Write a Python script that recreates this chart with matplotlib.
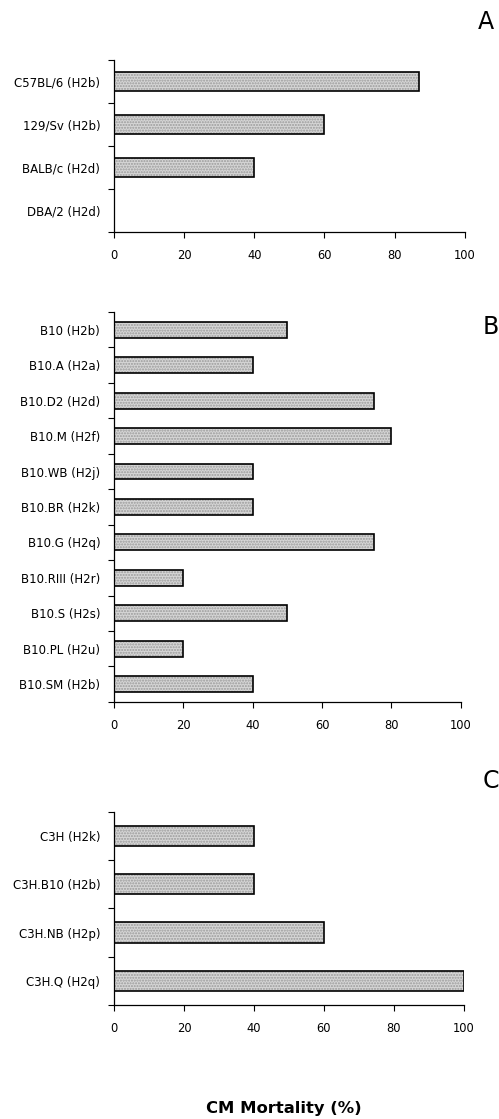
import numpy as np
import matplotlib
matplotlib.use("Agg")
import matplotlib.pyplot as plt

# ---- data ----
strains_a = ["C57BL/6 (H2b)", "129/Sv (H2b)", "BALB/c (H2d)", "DBA/2 (H2d)"]
mort_a = [87, 60, 40, 0]

strains_b = ["B10 (H2b)", "B10.A (H2a)", "B10.D2 (H2d)", "B10.M (H2f)",
             "B10.WB (H2j)", "B10.BR (H2k)", "B10.G (H2q)", "B10.RIII (H2r)",
             "B10.S (H2s)", "B10.PL (H2u)", "B10.SM (H2b)"]
mort_b = [50, 40, 75, 80, 40, 40, 75, 20, 50, 20, 40]

strains_c = ["C3H (H2k)", "C3H.B10 (H2b)", "C3H.NB (H2p)", "C3H.Q (H2q)"]
mort_c = [40, 40, 60, 100]

x_ticks = [0, 20, 40, 60, 80, 100]


def strain_panel(ax, labels, values, letter, letter_xy, bar_h=0.45):
    n = len(labels)
    y = np.arange(n)
    # stippled fill, then a crisp black outline on top
    ax.barh(y, values, height=bar_h, color="#d6d6d6", edgecolor="#9a9a9a",
            hatch="......", linewidth=0)
    ax.barh(y, values, height=bar_h, fill=False, edgecolor="black", linewidth=1.2)
    ax.set_ylim(n - 0.5, -0.5)
    ax.set_xlim(0, 100)
    ax.set_yticks(y)
    ax.set_yticklabels(labels, fontsize=8.5)
    ax.tick_params(axis="y", which="major", length=0, pad=10)
    ax.set_yticks(np.arange(n + 1) - 0.5, minor=True)
    ax.tick_params(axis="y", which="minor", length=4, width=0.8)
    ax.set_xticks(x_ticks)
    ax.tick_params(axis="x", labelsize=8.3, length=4, width=0.8, pad=8)
    for s in ("top", "right"):
        ax.spines[s].set_visible(False)
    for s in ("left", "bottom"):
        ax.spines[s].set_linewidth(0.9)
    fig.text(letter_xy[0], letter_xy[1], letter, fontsize=17,
             ha="center", va="center")


fig = plt.figure(figsize=(4.99, 11.19), dpi=100)

ax_a = fig.add_axes([0.2285, 0.7927, 0.703, 0.1537])
strain_panel(ax_a, strains_a, mort_a, "A", (486 / 499, 1 - 22 / 1119))

ax_b = fig.add_axes([0.2285, 0.3727, 0.695, 0.3485])
strain_panel(ax_b, strains_b, mort_b, "B", (491 / 499, 1 - 327 / 1119))

ax_c = fig.add_axes([0.2285, 0.1019, 0.701, 0.1725])
strain_panel(ax_c, strains_c, mort_c, "C", (491 / 499, 1 - 781 / 1119), bar_h=0.42)

fig.text(284 / 499, 1 - 1108 / 1119, "CM Mortality (%)", fontsize=11.8,
         fontweight="bold", ha="center", va="center")

fig.savefig("out.png", dpi=100)
